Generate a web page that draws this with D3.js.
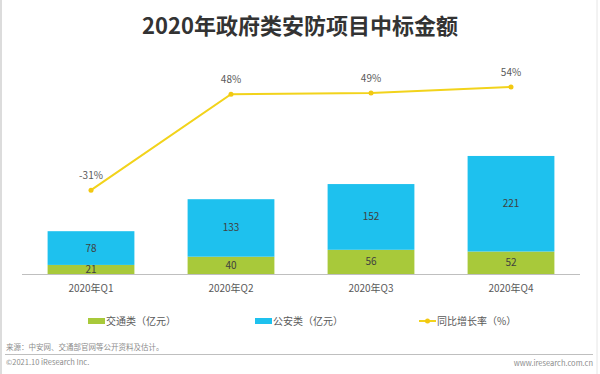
<!DOCTYPE html>
<html>
<head>
<meta charset="utf-8">
<script src="https://cdn.jsdelivr.net/npm/d3@7"></script>
<style>
  body { margin: 0; background: #fff; }
  svg { display: block; font-family: "Noto Sans CJK SC", "Noto Sans", sans-serif; }
</style>
</head>
<body>
<div id="chart"></div>
<script>
// Chart data
const quarters = ["2020年Q1", "2020年Q2", "2020年Q3", "2020年Q4"];
const traffic = [21, 40, 56, 52];      // 交通类（亿元）
const police = [78, 133, 152, 221];    // 公安类（亿元）
const growth = [-31, 48, 49, 54];      // 同比增长率（%）

const width = 600, height = 374;
const baseY = 274, topY = 31;

const svg = d3.select("#chart").append("svg")
    .attr("width", width)
    .attr("height", height);

// faint frame edges like the screenshot
svg.append("line").attr("x1", 1).attr("x2", 1).attr("y1", 0).attr("y2", height)
    .attr("stroke", "#d0d0d0").attr("stroke-width", 1.5);
svg.append("line").attr("x1", 597).attr("x2", 597).attr("y1", 0).attr("y2", height)
    .attr("stroke", "#e6e6e6").attr("stroke-width", 1);

// Title
svg.append("text")
    .attr("x", 300).attr("y", 34)
    .attr("text-anchor", "middle")
    .style("font-size", "22px")
    .style("font-weight", "bold")
    .style("fill", "#333")
    .text("2020年政府类安防项目中标金额");

// Scales
const x = d3.scaleBand()
    .domain(quarters)
    .range([21, 581])
    .paddingInner(0.38)
    .paddingOuter(0.19);

const y = d3.scaleLinear()
    .domain([0, 562])
    .range([baseY, topY]);

const yRate = d3.scaleLinear()
    .domain([-100, 100])
    .range([baseY, topY]);

const stackData = quarters.map((q, i) => ({quarter: q, traffic: traffic[i], police: police[i]}));
const series = d3.stack().keys(["traffic", "police"])(stackData);
const colors = {traffic: "#A8C93A", police: "#1EC1EE"};

// Bars
const layers = svg.append("g").selectAll("g")
    .data(series)
    .join("g")
    .attr("fill", d => colors[d.key]);

layers.selectAll("rect")
    .data(d => d)
    .join("rect")
    .attr("x", d => x(d.data.quarter))
    .attr("y", d => y(d[1]))
    .attr("width", x.bandwidth())
    .attr("height", d => y(d[0]) - y(d[1]));

// Bar value labels
layers.selectAll("text")
    .data(d => d)
    .join("text")
    .attr("x", d => x(d.data.quarter) + x.bandwidth() / 2)
    .attr("y", d => (y(d[0]) + y(d[1])) / 2 + 3.5)
    .attr("text-anchor", "middle")
    .style("font-size", "10px")
    .style("fill", "#404040")
    .text(d => d[1] - d[0]);

// X axis
const xAxis = svg.append("g")
    .attr("transform", `translate(0,${baseY})`)
    .call(d3.axisBottom(x).tickSize(0).tickPadding(11));
xAxis.select(".domain").attr("stroke", "#bfbfbf").attr("d", "M22,0.5H580");
xAxis.selectAll("text")
    .style("font-size", "10px")
    .style("fill", "#595959")
    .style("font-family", "\"Noto Sans CJK SC\", sans-serif");

// Growth line
const cx = q => x(q) + x.bandwidth() / 2;
const line = d3.line()
    .x((d, i) => cx(quarters[i]))
    .y(d => yRate(d));

svg.append("path")
    .datum(growth)
    .attr("fill", "none")
    .attr("stroke", "#F2D31B")
    .attr("stroke-width", 2)
    .attr("d", line);

svg.append("g").selectAll("circle")
    .data(growth)
    .join("circle")
    .attr("cx", (d, i) => cx(quarters[i]))
    .attr("cy", d => yRate(d))
    .attr("r", 2.5)
    .attr("fill", "#F2C811");

svg.append("g").selectAll("text")
    .data(growth)
    .join("text")
    .attr("x", (d, i) => cx(quarters[i]))
    .attr("y", d => yRate(d) - 11)
    .attr("text-anchor", "middle")
    .style("font-size", "10px")
    .style("fill", "#595959")
    .text(d => d + "%");

// Legend
const legendY = 321;
const legend = [
    {label: "交通类（亿元）", type: "rect", color: colors.traffic, x: 88},
    {label: "公安类（亿元）", type: "rect", color: colors.police, x: 255},
    {label: "同比增长率（%）", type: "line", color: "#F2D31B", x: 419}
];
const lg = svg.append("g").selectAll("g")
    .data(legend)
    .join("g")
    .attr("transform", d => `translate(${d.x},${legendY})`);

lg.filter(d => d.type === "rect").append("rect")
    .attr("x", 0).attr("y", -3).attr("width", 17).attr("height", 6)
    .attr("fill", d => d.color);
lg.filter(d => d.type === "line").append("line")
    .attr("x1", 0).attr("x2", 17).attr("y1", 0).attr("y2", 0)
    .attr("stroke", d => d.color).attr("stroke-width", 2);
lg.filter(d => d.type === "line").append("circle")
    .attr("cx", 8.5).attr("cy", 0).attr("r", 2.5)
    .attr("fill", "#F2C811");
lg.append("text")
    .attr("x", 18).attr("y", 3.5)
    .style("font-size", "10px")
    .style("fill", "#595959")
    .text(d => d.label);

// Footer
svg.append("text")
    .attr("x", 6).attr("y", 350)
    .style("font-size", "7.5px")
    .style("fill", "#8c8c8c")
    .text("来源：中安网、交通部官网等公开资料及估计。");

svg.append("line")
    .attr("x1", 5).attr("x2", 593)
    .attr("y1", 354.5).attr("y2", 354.5)
    .attr("stroke", "#bfbfbf").attr("stroke-width", 1);

svg.append("text")
    .attr("x", 6).attr("y", 365)
    .style("font-size", "7.5px")
    .style("fill", "#8c8c8c")
    .text("©2021.10 iResearch Inc.");

svg.append("text")
    .attr("x", 593).attr("y", 366)
    .attr("text-anchor", "end")
    .style("font-size", "7.5px")
    .style("fill", "#8c8c8c")
    .text("www.iresearch.com.cn");
</script>
</body>
</html>
